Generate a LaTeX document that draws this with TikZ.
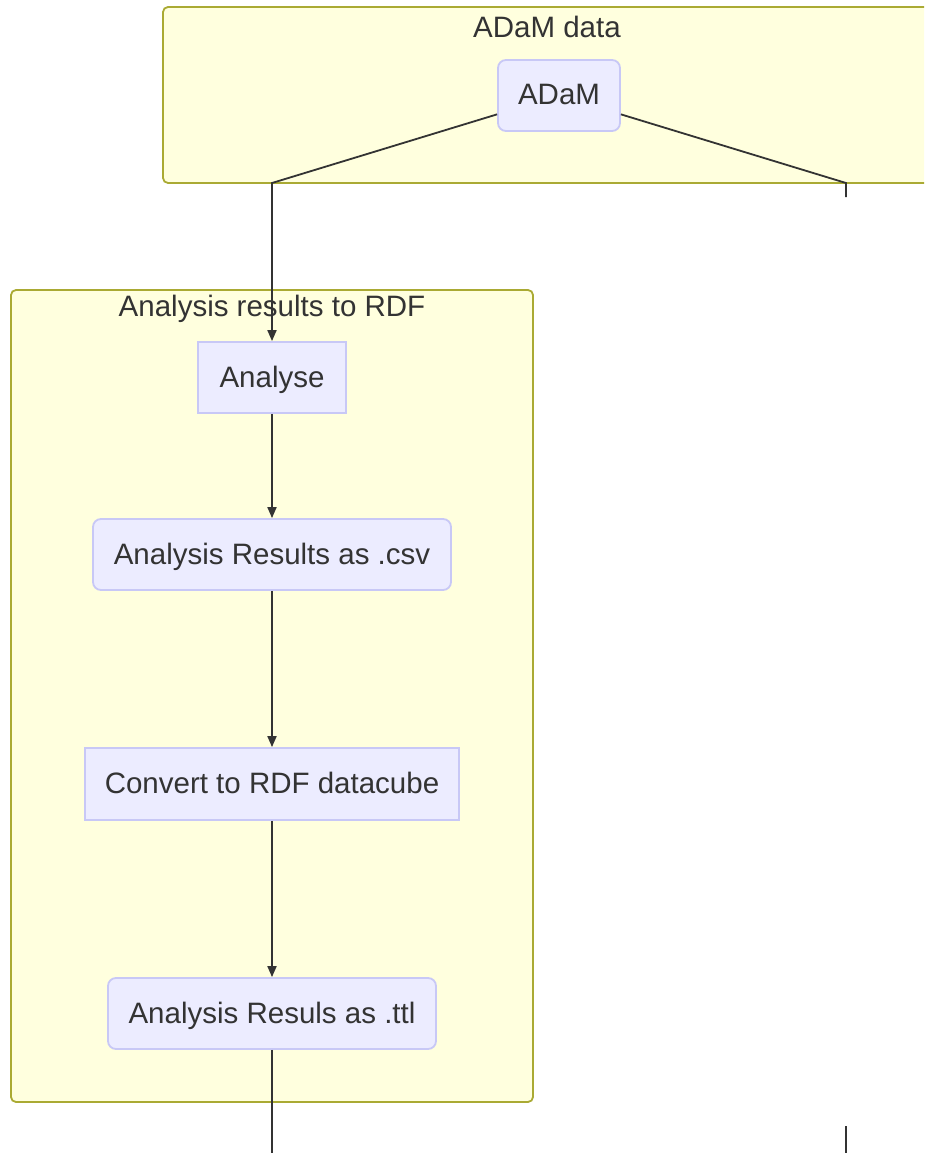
\documentclass[tikz,border=0pt]{standalone}
\usepackage{fontspec}
\setmainfont{Liberation Sans}
\usetikzlibrary{arrows.meta}
\definecolor{clusterfill}{HTML}{FFFFDE}
\definecolor{clusterline}{HTML}{AAAA33}
\definecolor{boxfill}{HTML}{ECECFF}
\definecolor{boxline}{HTML}{C8C8F6}
\definecolor{ink}{HTML}{333333}
\tikzset{
  cluster/.style={draw=clusterline, fill=clusterfill, line width=1.8pt, rounded corners=5pt},
  clustertitle/.style={text=ink, font=\fontsize{29.5}{34}\selectfont, inner sep=0pt},
  boxbase/.style={draw=boxline, fill=boxfill, line width=1.8pt, text=ink,
    font=\fontsize{29.5}{34}\selectfont, inner sep=0pt, minimum height=71pt,
    text height=21pt, text depth=2pt},
  roundbox/.style={boxbase, rounded corners=8pt},
  sqbox/.style={boxbase},
  link/.style={draw=ink, line width=1.8pt},
  arrowlink/.style={link, -{Triangle[length=11pt,width=9pt]}},
}
\begin{document}
\begin{tikzpicture}[x=1pt,y=-1pt]
  \useasboundingbox (0,0) rectangle (924,1153);
  \clip (0,0) rectangle (924,1153);
  \fill[white] (0,0) rectangle (924,1153);

  % subgraph frames
  \draw[cluster] (163,7) rectangle (940,183);
  \node[clustertitle] (adamtitle) at (547,27) {ADaM data};
  \draw[cluster] (11,290) rectangle (533,1102);
  \node[clustertitle] (rdftitle) at (272,309) {Analysis results to RDF};

  % free connector bends and ends
  \coordinate (bendL) at (272,183);
  \coordinate (bendR) at (846,183);
  \coordinate (endR) at (846,197);
  \coordinate (outL) at (272,1160);
  \coordinate (inR) at (846,1126);
  \coordinate (inRend) at (846,1160);

  % process nodes
  \node[roundbox, minimum width=122pt] (adam) at (559,95.5) {ADaM};
  \node[sqbox, minimum width=148pt] (analyse) at (272,377.5) {Analyse};
  \node[roundbox, minimum width=358pt] (csv) at (272,554.5) {Analysis Results as .csv};
  \node[sqbox, minimum width=374pt, minimum height=72pt] (convert) at (272,784) {Convert to RDF datacube};
  \node[roundbox, minimum width=328pt] (ttl) at (272,1013.5) {Analysis Resuls as .ttl};

  % connectors
  \draw[arrowlink] (adam) -- (bendL) -- (analyse.north);
  \draw[link] (adam) -- (bendR) -- (endR);
  \draw[arrowlink] (analyse) -- (csv);
  \draw[arrowlink] (csv) -- (convert);
  \draw[arrowlink] (convert) -- (ttl);
  \draw[link] (ttl) -- (outL);
  \draw[link] (inR) -- (inRend);
\end{tikzpicture}
\end{document}
